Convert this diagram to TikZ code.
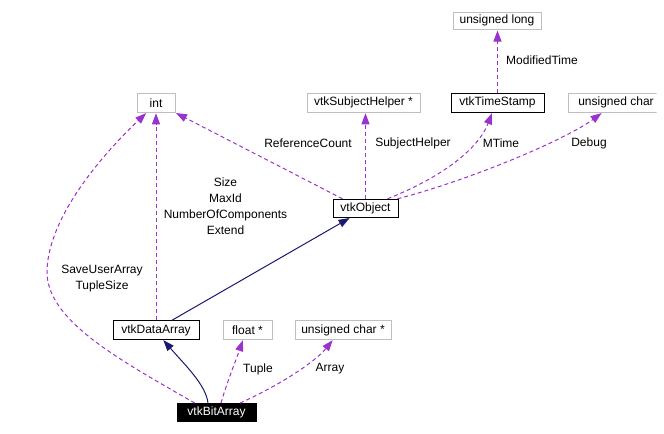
\documentclass[tikz,border=0pt]{standalone}
\usepackage{fontspec}
\setmainfont{Liberation Sans}
\usetikzlibrary{arrows.meta}
\definecolor{dep}{HTML}{9A32CD}
\definecolor{inh}{HTML}{191970}
\definecolor{gbox}{HTML}{BFBFBF}
\tikzset{
  cls/.style={draw=black, line width=1bp, inner sep=0pt, minimum height=18.5bp, font=\fontsize{12bp}{14bp}\selectfont},
  ext/.style={draw=gbox, line width=1bp, inner sep=0pt, minimum height=18.5bp, font=\fontsize{12bp}{14bp}\selectfont},
  self/.style={fill=black, draw=black, text=white, inner sep=0pt, minimum height=18bp, font=\fontsize{12bp}{14bp}\selectfont},
  lbl/.style={inner sep=0pt, align=center, font=\fontsize{12bp}{16bp}\selectfont},
  uses/.style={draw=dep, line width=1bp, dash pattern=on 4bp off 3bp, -{Triangle[length=11bp,width=8bp]}, shorten >=0.5bp},
  isa/.style={draw=inh, line width=1bp, -{Triangle[length=11bp,width=8bp]}, shorten >=0.5bp}
}
\begin{document}
\begin{tikzpicture}[x=1bp,y=-1bp]
\useasboundingbox (0,0) rectangle (664,434);
% nodes
\node[ext, minimum width=88bp, minimum height=17.5bp] (ul) at (497,20.8) {unsigned long};
\node[ext, minimum width=38bp, minimum height=19bp] (int) at (156,102.8) {int};
\node[ext, minimum width=113bp, minimum height=19bp] (sh) at (363.5,102.8) {vtkSubjectHelper *};
\node[cls, minimum width=93bp, minimum height=19bp] (ts) at (497.5,102.8) {vtkTimeStamp};
\begin{scope}
\clip (0,0) rectangle (656.5,434);
\node[ext, minimum width=100bp, minimum height=19bp] (uc) at (618,102.8) {\hspace*{-4bp}unsigned char};
\end{scope}
\node[cls, minimum width=65bp, minimum height=18bp] (obj) at (365.5,208.3) {vtkObject};
\node[cls, minimum width=86bp] (da) at (156,330) {vtkDataArray};
\node[ext, minimum width=49bp] (fl) at (247.5,330) {float *};
\node[ext, minimum width=96bp] (ucs) at (343,330) {unsigned char *};
\node[self, minimum width=79bp] (ba) at (216.5,412.3) {vtkBitArray};
% labels
\node[lbl] (lmt) at (542,60) {ModifiedTime};
\node[lbl] (lrc) at (308,143) {ReferenceCount};
\node[lbl] (lsh) at (413,143) {SubjectHelper};
\node[lbl] (lmti) at (501,143) {MTime};
\node[lbl] (ldb) at (589,143) {Debug};
\node[lbl] (lsz) at (225.5,206.5) {Size\\MaxId\\NumberOfComponents\\Extend};
\node[lbl] (lsu) at (102,278.5) {SaveUserArray\\TupleSize};
\node[lbl] (ltu) at (258,369) {Tuple};
\node[lbl] (lar) at (330,369) {Array};
% connectors
\draw[uses] (ts.north) -- (ts.north |- ul.south);
\draw[uses] ([xshift=10bp]obj.north west) -- (int.south east);
\draw[uses] (obj.north) -- (obj.north |- sh.south);
\draw[uses] ([xshift=-11bp]obj.north east) .. controls (440,178) and (478,150) .. ([xshift=-5.5bp]ts.south);
\draw[uses] ([xshift=-1bp]obj.north east) .. controls (470,180) and (565,140) .. ([xshift=-16bp]uc.south);
\draw[uses] (da.north) -- (int.south);
\draw[uses] ([xshift=18bp]ba.north west) .. controls (120,360) and (45,320) .. (47,270) .. controls (49,215) and (105,152) .. ([xshift=10bp]int.south west);
\draw[isa] ([xshift=16bp]da.north) -- ([xshift=-15.5bp]obj.south);
\draw[isa] ([xshift=-8.5bp]ba.north) .. controls (206,385) and (185,365) .. ([xshift=7bp]da.south);
\draw[uses] ([xshift=4.5bp]ba.north) .. controls (226,385) and (236,360) .. ([xshift=-4.5bp]fl.south);
\draw[uses] ([xshift=23.5bp]ba.north) .. controls (280,385) and (315,362) .. ([xshift=-10bp]ucs.south);
\end{tikzpicture}
\end{document}
